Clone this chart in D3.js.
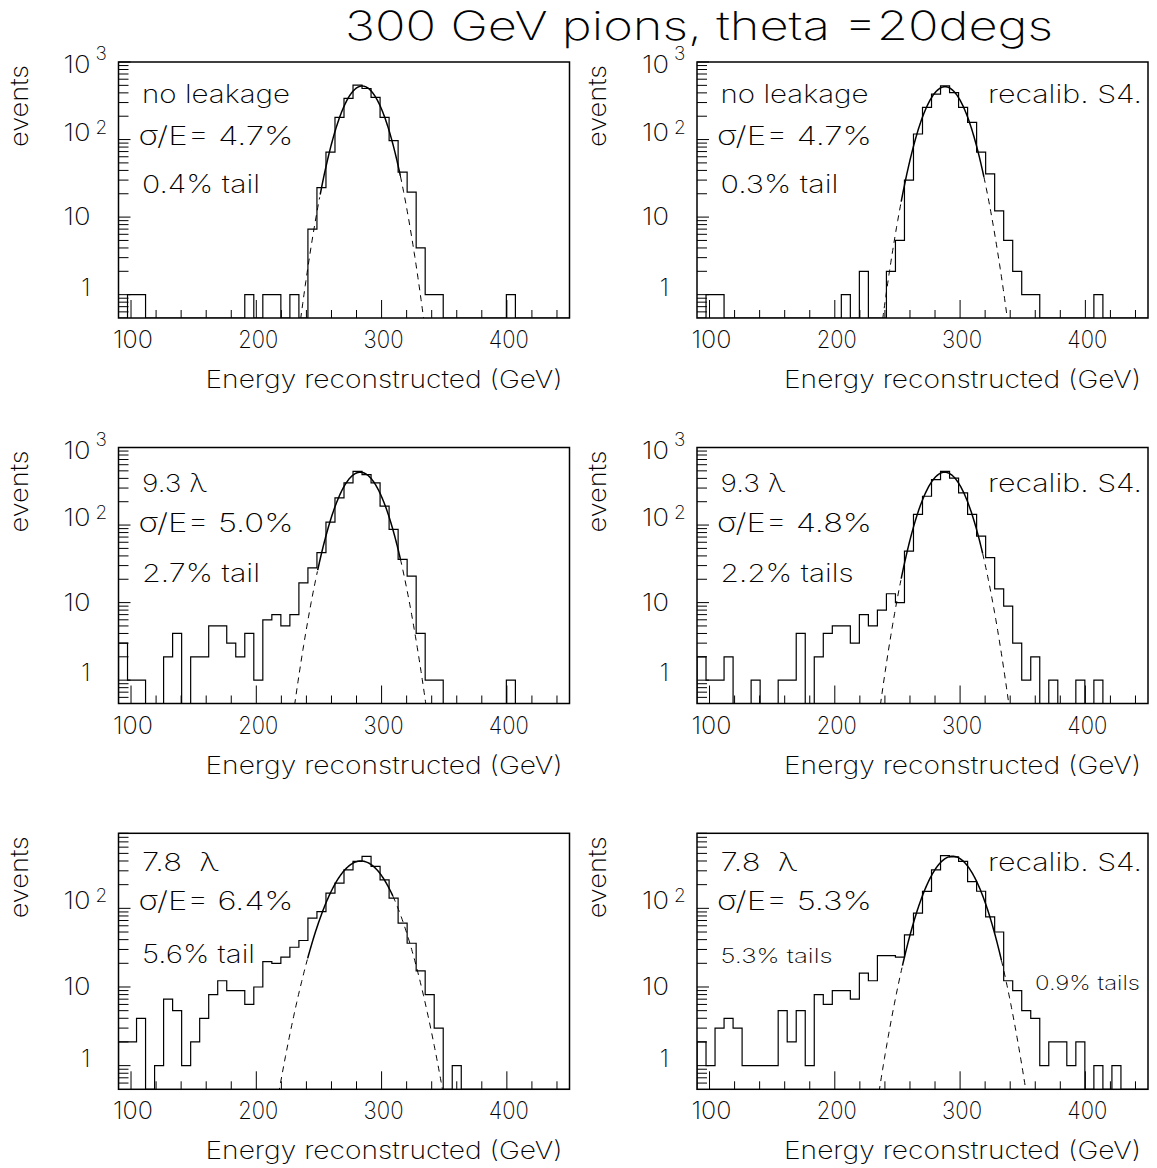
<!DOCTYPE html>
<html><head><meta charset="utf-8">
<script src="https://cdnjs.cloudflare.com/ajax/libs/d3/7.8.5/d3.min.js"></script>
<style>
body{margin:0;background:#fff}
text{font-family:Inter,Roboto,"DejaVu Sans",sans-serif;font-weight:200;fill:#000;white-space:pre}
</style>
</head><body>
<svg id="c" width="1157" height="1168"></svg>
<script>
// ---------------- data ----------------
const binLow = 90, binHigh = 450, nBins = 50;
const xTickLabels = [100, 200, 300, 400];
const yTickLabelsTop = [1, 10, 100, 1000];
const yTickLabelsBottom = [1, 10, 100];

// counts per bin (50 bins, 90..450 GeV)
const countsNoLeak      = [0,1,1,0,0,0,0,0,0,0, 0,0,0,0,1,0,1,1,0,1, 0,7,24,69,193,339,503,455,349,193, 97,38,21,4,1,1,0,0,0,0, 0,0,0,1,0,0,0,0,0,0];
const countsNoLeakRecal = [0,1,1,0,0,0,0,0,0,0, 0,0,0,0,0,0,1,0,2,0, 0,2,5,30,118,260,385,492,404,260, 167,69,36,12,5,2,1,1,0,0, 0,0,0,0,1,0,0,0,0,0];
const counts93          = [3,1,1,0,0,2,4,0,2,2, 5,5,3,2,4,1,6,7,5,7, 18,28,44,109,224,349,492,447,349,175, 88,36,22,4,1,1,0,0,0,0, 0,0,0,1,0,0,0,0,0,0];
const counts93Recal     = [2,1,1,2,0,0,1,0,0,1, 1,4,0,2,4,5,5,3,7,5, 8,13,10,46,137,235,385,492,404,260, 137,72,38,15,9,3,1,2,0,1, 0,0,1,0,1,0,0,0,0,0];
const counts78          = [2,2,4,0,1,7,5,1,2,4, 8,12,9,9,6,10,21,20,24,32, 39,75,91,156,209,309,395,457,341,230, 135,65,36,16,8,3,0,1,0,0, 0,0,0,0,0,0,0,0,0,0];
const counts78Recal     = [2,1,3,4,3,1,1,1,1,5, 2,5,1,8,6,9,9,7,15,12, 25,25,24,46,87,164,309,467,450,395, 219,165,78,50,12,9,5,4,1,2, 2,1,2,0,1,0,1,0,0,0];

// gaussian fit parameters: mean, sigma, amplitude, fit range
const fitMean  = [284.5, 288.0, 283.0, 287.7, 283.5, 294.0];
const fitSigma = [13.2, 13.4, 14.1, 13.8, 17.8, 15.8];
const fitAmp   = [490, 480, 480, 480, 400, 460];
const fitLo    = [251, 253, 249, 253, 241, 254];
const fitHi    = [315, 319, 315, 318, 309, 333];

const depthLabels  = ["no leakage", "no leakage", "9.3 λ", "9.3 λ", "7.8  λ", "7.8  λ"];
const resolutions  = ["σ/E= 4.7%", "σ/E= 4.7%", "σ/E= 5.0%", "σ/E= 4.8%", "σ/E= 6.4%", "σ/E= 5.3%"];
const tailLabels   = ["0.4% tail", "0.3% tail", "2.7% tail", "2.2% tails", "5.6% tail", "5.3% tails"];
const recalLabels  = ["", "recalib. S4.", "", "recalib. S4.", "", "recalib. S4."];
const extraLabels  = ["", "", "", "", "", "0.9% tails"];
const yMax = [1000, 1000, 1000, 1000, 900, 900];
const allCounts = [countsNoLeak, countsNoLeakRecal, counts93, counts93Recal, counts78, counts78Recal];

const titleText = "300 GeV pions, theta =20degs";
const xTitle = "Energy reconstructed (GeV)";
const yTitle = "events";

// ---------------- layout ----------------
const svg = d3.select("#c");
svg.append("rect").attr("width",1157).attr("height",1168).attr("fill","#fff");
const colX = [118.5, 697];
const rowY = [62, 447.5, 833.3];
const W = 451, H = 256;
const binEdges = d3.range(nBins + 1).map(i => binLow + i * (binHigh - binLow) / nBins);

function txt(g, x, y, s, size, len, anchor) {
  const t = g.append("text").attr("x", x).attr("y", y).attr("font-size", size)
    .attr("text-anchor", anchor || "start").text(s);
  if (len) t.attr("textLength", len).attr("lengthAdjust", "spacingAndGlyphs");
  return t;
}

txt(svg, 345, 40, titleText, 40, 708);

const textRowOff = [[41, 83, 131], [44, 84, 134], [38, 77, 130]];
const textWidths = {
  "no leakage":148, "9.3 λ":65, "7.8  λ":77,
  "σ/E= 4.7%":155, "σ/E= 5.0%":155, "σ/E= 4.8%":155, "σ/E= 6.4%":155, "σ/E= 5.3%":155,
  "0.4% tail":118, "0.3% tail":118, "2.7% tail":118, "2.2% tails":133, "5.6% tail":113, "5.3% tails":112,
  "recalib. S4.":154, "0.9% tails":105
};

for (let p = 0; p < 6; p++) {
  const col = p % 2, row = Math.floor(p / 2);
  const x0 = colX[col], y0 = rowY[row];
  const g = svg.append("g").attr("transform", `translate(${x0},${y0})`);
  const x = d3.scaleLinear().domain([binLow, binHigh]).range([0, W]);
  const y = d3.scaleLog().domain([0.5, yMax[p]]).range([H, 0]);
  const cid = "clip" + p;
  g.append("clipPath").attr("id", cid).append("rect").attr("width", W).attr("height", H);

  // histogram outline
  const counts = allCounts[p];
  const yv = v => v > 0 ? y(v) : H;
  let d = `M${x(binEdges[0])},${H}`;
  counts.forEach((c, k) => {
    d += `L${x(binEdges[k])},${yv(c)}L${x(binEdges[k + 1])},${yv(c)}`;
  });
  d += `L${x(binEdges[nBins])},${H}`;
  g.append("path").attr("d", d).attr("fill", "none").attr("stroke", "#000")
    .attr("stroke-width", 1.2).attr("clip-path", `url(#${cid})`);

  // gaussian fit
  const gauss = e => fitAmp[p] * Math.exp(-0.5 * Math.pow((e - fitMean[p]) / fitSigma[p], 2));
  const line = d3.line().x(e => x(e)).y(e => y(Math.max(gauss(e), 0.3)));
  const lo = fitMean[p] - 4.2 * fitSigma[p], hi = fitMean[p] + 4.2 * fitSigma[p];
  const fg = g.append("g").attr("clip-path", `url(#${cid})`);
  fg.append("path").attr("d", line(d3.range(lo, fitLo[p] + 0.01, 0.5)))
    .attr("fill", "none").attr("stroke", "#000").attr("stroke-width", 1).attr("stroke-dasharray", "6,5");
  fg.append("path").attr("d", line(d3.range(fitHi[p], hi, 0.5)))
    .attr("fill", "none").attr("stroke", "#000").attr("stroke-width", 1).attr("stroke-dasharray", "6,5");
  fg.append("path").attr("d", line(d3.range(fitLo[p], fitHi[p] + 0.01, 0.5)))
    .attr("fill", "none").attr("stroke", "#000").attr("stroke-width", 1.5);

  // frame
  g.append("rect").attr("width", W).attr("height", H).attr("fill", "none")
    .attr("stroke", "#000").attr("stroke-width", 1.5);

  // x ticks
  x.ticks(18).forEach(t => {
    const major = t % 100 === 0;
    g.append("line").attr("x1", x(t)).attr("x2", x(t)).attr("y1", H).attr("y2", H - (major ? 18 : 8))
      .attr("stroke", "#000").attr("stroke-width", 1);
  });
  xTickLabels.forEach(t => txt(g, x(t) + 2, H + 30, String(t), 24, 40, "middle"));
  txt(g, W - 7, H + 70, xTitle, 24, 357, "end");

  // y ticks
  y.ticks().forEach(t => {
    if (t <= 0.5 || t > yMax[p]) return;
    const lg = Math.log10(t);
    const major = Math.abs(lg - Math.round(lg)) < 1e-9;
    g.append("line").attr("x1", 0).attr("x2", major ? 12 : 10).attr("y1", y(t)).attr("y2", y(t))
      .attr("stroke", "#000").attr("stroke-width", 1);
  });
  const yl = yMax[p] >= 1000 ? yTickLabelsTop : yTickLabelsBottom;
  yl.forEach(t => {
    const yy = y(t);
    if (t === 1) txt(g, -28, yy + 1, "1", 24, null, "end");
    else if (t === 10) txt(g, -28, yy + 8, "10", 24, 27, "end");
    else if (t === 100) { txt(g, -28, yy + 1, "10", 24, 27, "end"); txt(g, -23, yy - 6, "2", 19); }
    else { txt(g, -28, yy + 11, "10", 24, 27, "end"); txt(g, -23, yy - 2, "3", 19); }
  });
  svg.append("text").attr("transform", `translate(${x0 - 91},${y0 + 44}) rotate(-90)`)
    .attr("text-anchor", "middle").attr("font-size", 25)
    .attr("textLength", 82).attr("lengthAdjust", "spacingAndGlyphs").text(yTitle);

  // annotations
  const off = textRowOff[row];
  txt(g, 23.5, off[0], depthLabels[p], 25, textWidths[depthLabels[p]]);
  txt(g, 20, off[1], resolutions[p], 26, textWidths[resolutions[p]]);
  if (p === 5) txt(g, 23.5, off[2], tailLabels[p], 20, textWidths[tailLabels[p]]);
  else txt(g, 23.5, off[2], tailLabels[p], 25, textWidths[tailLabels[p]]);
  if (recalLabels[p]) txt(g, W - 6, off[0], recalLabels[p], 25, textWidths[recalLabels[p]], "end");
  if (extraLabels[p]) txt(g, 338, 157, extraLabels[p], 20, textWidths[extraLabels[p]]);
}
</script>
</body></html>
